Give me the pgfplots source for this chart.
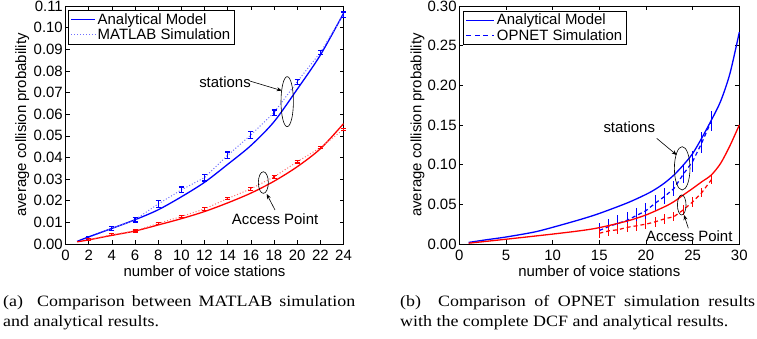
\documentclass[border=0pt]{standalone}
\usepackage{pgfplots}
\pgfplotsset{compat=1.18}
\usepackage{fontspec}
\setmainfont{Liberation Sans}
\newfontfamily\capfont{Liberation Serif}
\usetikzlibrary{arrows.meta}
\definecolor{myblue}{RGB}{0,0,255}
\definecolor{myred}{RGB}{255,0,0}
\definecolor{lblue}{RGB}{110,110,255}
\definecolor{lred}{RGB}{255,110,110}
\newcommand{\tf}{\fontsize{15}{17}\selectfont}
\pgfplotsset{
  mystyle/.style={
    scale only axis, height=238bp, clip=false,
    axis line style={line width=0.8bp, black},
    tick align=inside, major tick length=4bp,
    tick style={black, line width=0.6bp},
    /pgf/number format/assume math mode=true,
    every tick label/.append style={font=\tf, inner sep=1bp},
    xticklabel style={yshift=-5bp},
    yticklabel style={xshift=-1.5bp, /pgf/number format/.cd, fixed, fixed zerofill, precision=2},
    xlabel style={font=\tf, at={(axis description cs:0.5,0)}, anchor=north, yshift=-21bp, inner sep=0},
    ylabel style={font=\tf, anchor=south, inner sep=0},
    legend cell align=left,
    legend style={anchor=north west, draw=black, line width=0.8bp, font=\tf,
      inner xsep=2bp, inner ysep=1bp, row sep=-1bp, fill=white},
  }
}
\begin{document}
\begin{tikzpicture}
\useasboundingbox (0,0) rectangle (757bp,339bp);
% ---------------- left panel ----------------
\begin{axis}[mystyle, at={(65.5bp,95bp)}, anchor=south west, width=278bp,
  xmin=0, xmax=24, ymin=0, ymax=0.11,
  xtick={0,2,4,6,8,10,12,14,16,18,20,22,24},
  ytick={0,0.01,0.02,0.03,0.04,0.05,0.06,0.07,0.08,0.09,0.10,0.11},
  xlabel={number of voice stations},
  ylabel={average collision probability},
  ylabel style={at={(axis description cs:-0.13,0.5)}},
  legend style={at={(0.009,0.983)}},
]
\addplot[draw=myblue, line width=1.3bp, smooth,
  legend image code/.code={\draw[myblue, draw=myblue, line width=1.3bp] (0bp,0bp) -- (24bp,0bp);}]
  table[x=x,y=y] {
x y
1 0.0012
2 0.0033
4 0.0072
6 0.0112
8 0.0158
10 0.0218
12 0.0285
14 0.0368
16 0.0455
18 0.0565
20 0.0715
22 0.0873
24 0.1066
};
\addlegendentry{Analytical Model}
\addplot[draw=lblue, dotted, line width=1bp,
  legend image code/.code={\draw[lblue, draw=lblue, dotted, line width=1bp] (0bp,0bp) -- (24bp,0bp);},
  error bars/.cd, y dir=both, y explicit, error mark=|,
  error bar style={draw=myblue, solid, line width=1.2bp},
  error mark options={draw=myblue, solid, line width=1.2bp, mark size=2.5bp}]
  table[x=x,y=y,y error=e] {
x y e
2 0.0029 0.0006
4 0.0072 0.0010
6 0.0112 0.0010
8 0.0185 0.0015
10 0.0250 0.0013
12 0.0307 0.0016
14 0.0410 0.0015
16 0.0504 0.0016
18 0.0607 0.0012
20 0.0750 0.0012
22 0.0885 0.0009
24 0.1060 0.0012
};
\addlegendentry{MATLAB Simulation}
\addplot[draw=myred, line width=1.3bp, smooth, forget plot] table[x=x,y=y] {
x y
1 0.0010
2 0.0019
4 0.0040
6 0.0060
8 0.0088
10 0.0117
12 0.0150
14 0.0190
16 0.0235
18 0.0290
20 0.0357
22 0.0440
24 0.0556
};
\addplot[draw=lred, dotted, line width=1bp, forget plot,
  error bars/.cd, y dir=both, y explicit, error mark=|,
  error bar style={draw=myred, solid, line width=1.2bp},
  error mark options={draw=myred, solid, line width=1.2bp, mark size=2.5bp}]
  table[x=x,y=y,y error=e] {
x y e
2 0.0020 0.0005
4 0.0043 0.0005
6 0.0060 0.0005
8 0.0095 0.0006
10 0.0127 0.0006
12 0.0162 0.0007
14 0.0210 0.0006
16 0.0255 0.0007
18 0.0310 0.0006
20 0.0380 0.0006
22 0.0445 0.0005
24 0.0530 0.0005
};
\draw[line width=0.6bp] (axis cs:19.14,0.0658) ellipse [x radius=6.2bp, y radius=25bp];
\draw[-{Stealth[length=5bp,width=4bp]}, line width=0.6bp] (axis cs:15.93,0.0753) -- (axis cs:18.67,0.0709);
\node[font=\tf, inner sep=0] at (axis cs:13.77,0.0749) {stations};
\draw[line width=0.6bp] (axis cs:17.08,0.0284) ellipse [x radius=5bp, y radius=10.8bp];
\draw[-{Stealth[length=5bp,width=4bp]}, line width=0.6bp] (axis cs:18.09,0.0157) -- (axis cs:17.37,0.0231);
\node[font=\tf, inner sep=0] at (axis cs:18.09,0.01146) {Access Point};
\end{axis}
% ---------------- right panel ----------------
\begin{axis}[mystyle, at={(459.3bp,95bp)}, anchor=south west, width=280bp,
  xmin=0, xmax=30, ymin=0, ymax=0.30,
  xtick={0,5,10,15,20,25,30},
  ytick={0,0.05,0.10,0.15,0.20,0.25,0.30},
  xlabel={number of voice stations},
  ylabel={average collision probability},
  ylabel style={at={(axis description cs:-0.124,0.5)}},
  legend style={at={(0.014,0.98)}},
]
\addplot[draw=myblue, line width=1.3bp, smooth,
  legend image code/.code={\draw[myblue, draw=myblue, line width=1.3bp] (0bp,0bp) -- (28bp,0bp);}]
  table[x=x,y=y] {
x y
1 0.002
3 0.0055
5 0.0088
8 0.015
10 0.021
13 0.031
15 0.0385
18 0.0518
20 0.0625
21 0.069
22 0.077
23 0.087
24 0.0995
25 0.114
26 0.134
27 0.156
28 0.180
29 0.215
30 0.267
};
\addlegendentry{Analytical Model}
\addplot[draw=myblue, line width=1.2bp, dash pattern=on 4bp off 3bp,
  legend image code/.code={\draw[myblue, draw=myblue, line width=1.2bp, dash pattern=on 5bp off 3.5bp] (0bp,0bp) -- (28bp,0bp);},
  error bars/.cd, y dir=both, y explicit, error mark=none,
  error bar style={draw=myblue, solid, line width=1bp}]
  table[x=x,y=y,y error=e] {
x y e
15 0.017 0.009
16 0.022 0.010
17 0.026 0.010
18 0.030 0.010
19 0.036 0.010
20 0.042 0.010
21 0.0515 0.010
22 0.060 0.010
23 0.070 0.010
24 0.088 0.011
25 0.104 0.013
26 0.128 0.013
27 0.155 0.013
};
\addlegendentry{OPNET Simulation}
\addplot[draw=myred, line width=1.3bp, smooth, forget plot] table[x=x,y=y] {
x y
1 0.001
5 0.006
10 0.0125
13 0.0168
15 0.0206
18 0.029
20 0.0366
22 0.047
23 0.0534
24 0.0618
25 0.070
26 0.0786
27 0.087
28 0.1017
29 0.124
30 0.150
};
\addplot[draw=myred, line width=1.2bp, dash pattern=on 4bp off 3bp, forget plot,
  error bars/.cd, y dir=both, y explicit, error mark=none,
  error bar style={draw=myred, solid, line width=1bp}]
  table[x=x,y=y,y error=e] {
x y e
15 0.0135 0.006
16 0.0165 0.006
17 0.018 0.006
18 0.021 0.006
19 0.023 0.006
20 0.025 0.006
21 0.028 0.006
22 0.0317 0.006
23 0.0345 0.006
24 0.043 0.006
25 0.053 0.006
26 0.065 0.006
27 0.081 0.006
};
\draw[line width=0.6bp] (axis cs:23.88,0.0954) ellipse [x radius=7.8bp, y radius=21.7bp];
\draw[-{Stealth[length=5bp,width=4bp]}, line width=0.6bp] (axis cs:21.15,0.1332) -- (axis cs:23.29,0.1122);
\node[font=\tf, inner sep=0] at (axis cs:18.21,0.1479) {stations};
\draw[line width=0.6bp] (axis cs:23.83,0.0492) ellipse [x radius=4.3bp, y radius=10bp];
\draw[-{Stealth[length=5bp,width=4bp]}, line width=0.6bp] (axis cs:24.54,0.0198) -- (axis cs:24.08,0.0366);
\node[font=\tf, inner sep=0] at (axis cs:24.64,0.0103) {Access Point};
\end{axis}
% ---------------- captions ----------------
\node[anchor=base west, inner sep=0] at (3bp,32.3bp)
  {\capfont\fontsize{18}{20}\selectfont\scalebox{1}[0.88]{\makebox[352bp][s]{(a)\ \ Comparison between MATLAB simulation}}};
\node[anchor=base west, inner sep=0] at (3bp,13bp)
  {\capfont\fontsize{18}{20}\selectfont\scalebox{1}[0.88]{and analytical results.}};
\node[anchor=base west, inner sep=0] at (400bp,32.3bp)
  {\capfont\fontsize{18}{20}\selectfont\scalebox{1}[0.88]{\makebox[355bp][s]{(b)\ \ Comparison of OPNET simulation results}}};
\node[anchor=base west, inner sep=0] at (400bp,13bp)
  {\capfont\fontsize{18}{20}\selectfont\scalebox{1}[0.88]{with the complete DCF and analytical results.}};
\end{tikzpicture}
\end{document}
